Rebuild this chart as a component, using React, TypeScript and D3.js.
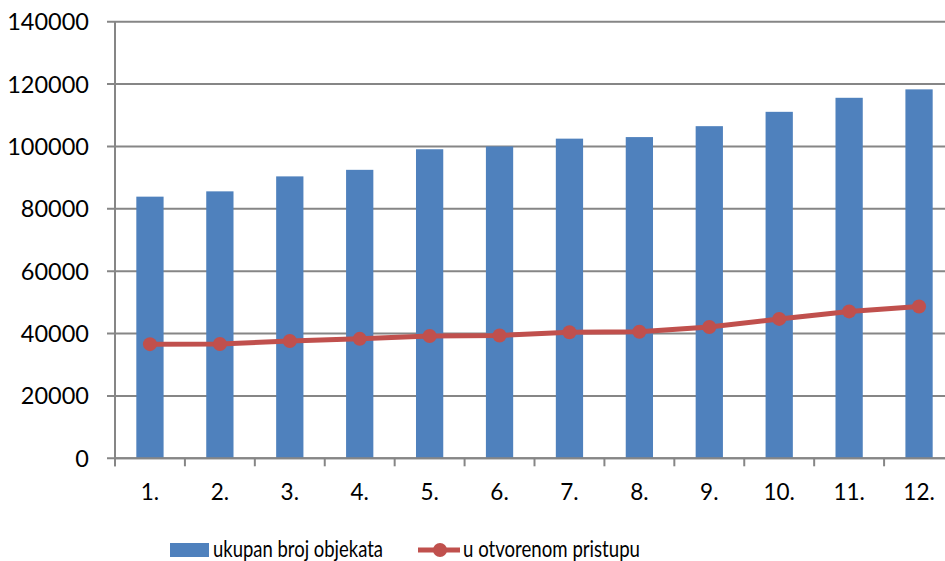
import React, { useEffect, useRef } from "react";
import * as d3 from "d3";

const categories = ["1.", "2.", "3.", "4.", "5.", "6.", "7.", "8.", "9.", "10.", "11.", "12."];
const totalObjects = [83900, 85600, 90400, 92500, 99100, 100000, 102500, 103000, 106500, 111100, 115600, 118300];
const openAccess = [36600, 36650, 37600, 38300, 39200, 39400, 40400, 40600, 42100, 44700, 47100, 48700];
const yTicks = [0, 20000, 40000, 60000, 80000, 100000, 120000, 140000];
const seriesNames = ["ukupan broj objekata", "u otvorenom pristupu"];

const W = 945;
const H = 561;
const left = 115;
const right = 954;
const top = 21.7;
const bottom = 458.3;
const FONT = "Lato, 'Open Sans', sans-serif";
const BAR = "#4F81BD";
const LINE = "#C0504D";
const GRID = "#868686";

export default function App() {
  const ref = useRef<SVGSVGElement>(null);
  useEffect(() => {
    document.body.style.margin = "0";
    const svg = d3.select(ref.current);
    svg.selectAll("*").remove();

    const x = d3.scaleBand<string>().domain(categories).range([left, right]).paddingInner(0).paddingOuter(0);
    const y = d3.scaleLinear().domain([0, 140000]).range([bottom, top]);
    const bw = x.bandwidth() * 0.39;

    svg.append("g").selectAll("line").data(yTicks).join("line")
      .attr("x1", left - 8).attr("x2", W)
      .attr("y1", (d) => y(d)).attr("y2", (d) => y(d))
      .attr("stroke", GRID).attr("stroke-width", 2);

    svg.append("g").selectAll("text").data(yTicks).join("text")
      .attr("x", 89).attr("y", (d) => y(d)).attr("dy", "0.36em")
      .attr("text-anchor", "end").attr("font-family", FONT).attr("font-size", 23.5)
      .attr("fill", "#000").text((d) => String(d));

    svg.append("g").selectAll("rect").data(totalObjects).join("rect")
      .attr("x", (_, i) => x(categories[i])! + x.bandwidth() / 2 - bw / 2)
      .attr("width", bw)
      .attr("y", (d) => y(d))
      .attr("height", (d) => bottom - y(d))
      .attr("fill", BAR);

    svg.append("line").attr("x1", left).attr("x2", left).attr("y1", top).attr("y2", bottom + 8)
      .attr("stroke", GRID).attr("stroke-width", 2);
    svg.append("line").attr("x1", left).attr("x2", W).attr("y1", bottom).attr("y2", bottom)
      .attr("stroke", GRID).attr("stroke-width", 2);
    const bounds = categories.map((c) => x(c)!).concat([right]);
    svg.append("g").selectAll("line").data(bounds).join("line")
      .attr("x1", (d) => d).attr("x2", (d) => d)
      .attr("y1", bottom).attr("y2", bottom + 8)
      .attr("stroke", GRID).attr("stroke-width", 2);

    svg.append("g").selectAll("text").data(categories).join("text")
      .attr("x", (d) => x(d)! + x.bandwidth() / 2).attr("y", 500)
      .attr("text-anchor", "middle").attr("font-family", FONT).attr("font-size", 22.5)
      .attr("fill", "#000").text((d) => d);

    const line = d3.line<number>()
      .x((_, i) => x(categories[i])! + x.bandwidth() / 2)
      .y((d) => y(d));
    svg.append("path").datum(openAccess).attr("d", line)
      .attr("fill", "none").attr("stroke", LINE).attr("stroke-width", 5)
      .attr("stroke-linejoin", "round");
    svg.append("g").selectAll("circle").data(openAccess).join("circle")
      .attr("cx", (_, i) => x(categories[i])! + x.bandwidth() / 2)
      .attr("cy", (d) => y(d)).attr("r", 7)
      .attr("fill", LINE);

    const lg = svg.append("g");
    lg.append("rect").attr("x", 170).attr("y", 543).attr("width", 39).attr("height", 14).attr("fill", BAR);
    lg.append("text").attr("x", 213).attr("y", 557).attr("font-family", FONT).attr("font-size", 23)
      .attr("textLength", 170).attr("lengthAdjust", "spacingAndGlyphs")
      .attr("fill", "#000").text(seriesNames[0]);
    lg.append("line").attr("x1", 418).attr("x2", 460).attr("y1", 550).attr("y2", 550)
      .attr("stroke", LINE).attr("stroke-width", 5);
    lg.append("circle").attr("cx", 440).attr("cy", 550).attr("r", 7).attr("fill", LINE);
    lg.append("text").attr("x", 463).attr("y", 557).attr("font-family", FONT).attr("font-size", 23)
      .attr("textLength", 177).attr("lengthAdjust", "spacingAndGlyphs")
      .attr("fill", "#000").text(seriesNames[1]);
  }, []);
  return <svg ref={ref} width={W} height={H} style={{ display: "block", background: "#fff" }} />;
}
